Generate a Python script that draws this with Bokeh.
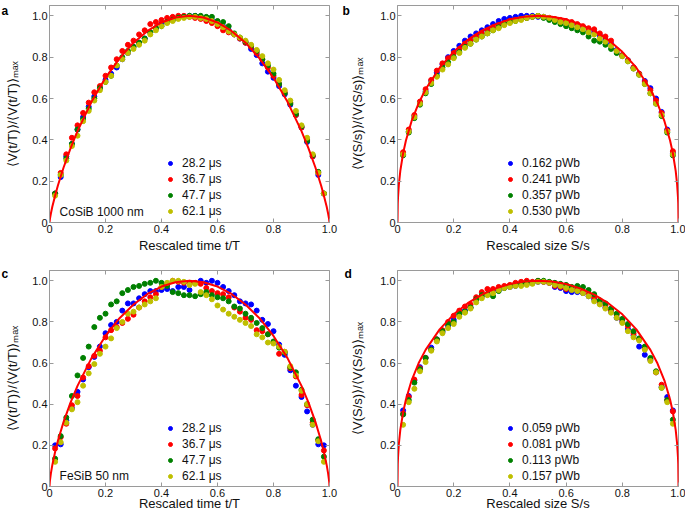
from bokeh.plotting import figure
from bokeh.models import Range1d, FixedTicker, Legend, LegendItem, Label, LinearAxis
from bokeh.layouts import column, row
from bokeh.embed import file_html
from bokeh.resources import INLINE

# ---------------- data ----------------
P_X = [0.02, 0.04, 0.06, 0.08, 0.10, 0.12, 0.14, 0.16, 0.18, 0.20,
       0.22, 0.24, 0.26, 0.28, 0.30, 0.32, 0.34, 0.36, 0.38, 0.40,
       0.42, 0.44, 0.46, 0.48, 0.50, 0.52, 0.54, 0.56, 0.58, 0.60,
       0.62, 0.64, 0.66, 0.68, 0.70, 0.72, 0.74, 0.76, 0.78, 0.80,
       0.82, 0.84, 0.86, 0.88, 0.90, 0.92, 0.94, 0.96, 0.98]

A_BLUE = [0.14, 0.22, 0.32, 0.38, 0.45, 0.51, 0.56, 0.61, 0.65, 0.69,
          0.72, 0.75, 0.79, 0.82, 0.85, 0.87, 0.89, 0.92, 0.94, 0.96,
          0.97, 0.98, 0.99, 0.995, 1.0, 1.0, 0.995, 0.99, 0.98, 0.965,
          0.95, 0.93, 0.91, 0.89, 0.87, 0.84, 0.81, 0.77, 0.73, 0.70,
          0.66, 0.62, 0.57, 0.52, 0.46, 0.39, 0.32, 0.23, 0.14]
A_RED = [0.14, 0.24, 0.33, 0.41, 0.47, 0.53, 0.58, 0.63, 0.66, 0.71,
         0.75, 0.79, 0.83, 0.86, 0.88, 0.91, 0.93, 0.96, 0.97, 0.98,
         0.99, 0.995, 1.0, 1.0, 0.995, 0.99, 0.985, 0.975, 0.965, 0.95,
         0.93, 0.92, 0.91, 0.89, 0.87, 0.85, 0.82, 0.79, 0.75, 0.71,
         0.67, 0.63, 0.58, 0.52, 0.46, 0.40, 0.32, 0.24, 0.14]
A_GREEN = [0.14, 0.23, 0.31, 0.38, 0.45, 0.50, 0.55, 0.60, 0.65, 0.68,
           0.71, 0.76, 0.80, 0.83, 0.85, 0.87, 0.89, 0.92, 0.94, 0.95,
           0.97, 0.98, 0.99, 0.995, 1.0, 1.0, 1.0, 0.995, 0.995, 0.975,
           0.97, 0.95, 0.915, 0.895, 0.875, 0.855, 0.83, 0.79, 0.76, 0.72,
           0.67, 0.625, 0.575, 0.525, 0.465, 0.395, 0.325, 0.245, 0.14]
A_YELLOW = [0.13, 0.23, 0.30, 0.37, 0.42, 0.49, 0.54, 0.59, 0.64, 0.68,
            0.71, 0.76, 0.79, 0.82, 0.84, 0.86, 0.88, 0.91, 0.93, 0.95,
            0.965, 0.975, 0.985, 0.99, 0.995, 0.995, 0.99, 0.985, 0.975, 0.96,
            0.945, 0.925, 0.91, 0.895, 0.88, 0.86, 0.835, 0.805, 0.77, 0.74,
            0.69, 0.64, 0.59, 0.54, 0.47, 0.41, 0.33, 0.24, 0.14]

B_BLUE = [0.33, 0.44, 0.515, 0.58, 0.635, 0.685, 0.725, 0.765, 0.80, 0.83,
          0.855, 0.88, 0.90, 0.915, 0.93, 0.945, 0.96, 0.975, 0.985, 0.99,
          0.995, 1.0, 1.0, 1.0, 0.995, 0.995, 0.99, 0.98, 0.975, 0.965,
          0.96, 0.955, 0.945, 0.93, 0.92, 0.905, 0.885, 0.865, 0.835, 0.81,
          0.785, 0.75, 0.72, 0.685, 0.65, 0.60, 0.535, 0.45, 0.335]
B_RED = [0.34, 0.45, 0.52, 0.585, 0.645, 0.69, 0.735, 0.77, 0.795, 0.82,
         0.84, 0.865, 0.88, 0.90, 0.915, 0.93, 0.945, 0.955, 0.965, 0.975,
         0.98, 0.985, 0.99, 0.995, 1.0, 0.995, 0.99, 0.985, 0.98, 0.975,
         0.97, 0.96, 0.95, 0.94, 0.935, 0.915, 0.90, 0.88, 0.83, 0.81,
         0.785, 0.75, 0.72, 0.68, 0.64, 0.59, 0.53, 0.445, 0.345]
B_GREEN = [0.325, 0.435, 0.505, 0.57, 0.625, 0.67, 0.71, 0.75, 0.775, 0.80,
           0.825, 0.85, 0.865, 0.885, 0.90, 0.915, 0.93, 0.945, 0.96, 0.97,
           0.975, 0.985, 0.99, 0.995, 1.0, 0.99, 0.98, 0.97, 0.96, 0.95,
           0.94, 0.93, 0.92, 0.90, 0.88, 0.875, 0.86, 0.84, 0.82, 0.805,
           0.78, 0.745, 0.715, 0.67, 0.625, 0.575, 0.515, 0.435, 0.325]
B_YELLOW = [0.33, 0.44, 0.51, 0.575, 0.63, 0.675, 0.705, 0.74, 0.765, 0.795,
            0.82, 0.845, 0.865, 0.885, 0.90, 0.915, 0.93, 0.94, 0.955, 0.965,
            0.975, 0.98, 0.99, 0.995, 1.0, 0.995, 0.99, 0.98, 0.97, 0.965,
            0.955, 0.945, 0.935, 0.92, 0.91, 0.89, 0.875, 0.855, 0.83, 0.805,
            0.78, 0.745, 0.715, 0.67, 0.625, 0.575, 0.52, 0.44, 0.33]

C_BLUE = [0.20, 0.205, 0.32, 0.38, 0.46, 0.52, 0.58, 0.63, 0.68, 0.745,
          0.785, 0.80, 0.855, 0.89, 0.89, 0.915, 0.935, 0.95, 0.95, 0.955,
          0.96, 0.95, 0.97, 0.97, 0.955, 0.99, 1.0, 0.99, 1.0, 0.99,
          0.97, 0.95, 0.93, 0.90, 0.89, 0.885, 0.855, 0.81, 0.79, 0.755,
          0.69, 0.64, 0.565, 0.49, 0.435, 0.365, 0.30, 0.205, 0.20]
C_RED = [0.185, 0.24, 0.305, 0.395, 0.44, 0.53, 0.585, 0.635, 0.66, 0.725,
         0.76, 0.775, 0.795, 0.815, 0.835, 0.87, 0.90, 0.92, 0.935, 0.97,
         0.985, 1.0, 0.995, 0.99, 0.99, 0.99, 0.985, 0.965, 0.95, 0.94,
         0.935, 0.92, 0.87, 0.85, 0.82, 0.81, 0.76, 0.755, 0.74, 0.70,
         0.645, 0.655, 0.575, 0.535, 0.445, 0.395, 0.31, 0.225, 0.175]
C_GREEN = [0.135, 0.245, 0.335, 0.44, 0.54, 0.625, 0.68, 0.775, 0.82, 0.84,
           0.885, 0.90, 0.94, 0.955, 0.97, 0.975, 0.985, 0.99, 1.0, 0.99,
           0.975, 0.945, 0.94, 0.93, 0.93, 0.925, 0.935, 0.945, 0.93, 0.92,
           0.915, 0.90, 0.875, 0.865, 0.84, 0.82, 0.795, 0.77, 0.74, 0.705,
           0.675, 0.65, 0.58, 0.555, 0.47, 0.40, 0.325, 0.23, 0.145]
C_YELLOW = [0.12, 0.215, 0.31, 0.375, 0.41, 0.49, 0.55, 0.595, 0.645, 0.68,
            0.72, 0.77, 0.80, 0.84, 0.85, 0.87, 0.885, 0.90, 0.915, 0.97,
            0.99, 1.0, 1.0, 0.995, 0.98, 0.985, 0.945, 0.93, 0.91, 0.88,
            0.86, 0.84, 0.825, 0.81, 0.795, 0.78, 0.74, 0.725, 0.70, 0.695,
            0.68, 0.655, 0.585, 0.54, 0.465, 0.40, 0.30, 0.22, 0.12]

D_BLUE = [0.37, 0.44, 0.515, 0.58, 0.625, 0.675, 0.715, 0.75, 0.78, 0.81,
          0.835, 0.855, 0.87, 0.905, 0.925, 0.935, 0.955, 0.955, 0.965, 0.97,
          0.975, 0.98, 0.985, 0.99, 0.995, 0.995, 0.99, 0.97, 0.965, 0.95,
          0.945, 0.945, 0.94, 0.925, 0.91, 0.89, 0.87, 0.85, 0.82, 0.80,
          0.765, 0.735, 0.68, 0.64, 0.615, 0.555, 0.485, 0.435, 0.37]
D_RED = [0.355, 0.435, 0.52, 0.575, 0.625, 0.665, 0.715, 0.76, 0.80, 0.83,
         0.855, 0.875, 0.885, 0.92, 0.945, 0.96, 0.96, 0.97, 0.975, 0.98,
         0.99, 0.995, 1.0, 0.995, 1.0, 0.995, 0.99, 0.975, 0.97, 0.96,
         0.96, 0.955, 0.95, 0.935, 0.92, 0.90, 0.88, 0.86, 0.835, 0.81,
         0.78, 0.745, 0.715, 0.67, 0.62, 0.555, 0.495, 0.42, 0.365]
D_GREEN = [0.35, 0.42, 0.505, 0.57, 0.625, 0.665, 0.715, 0.755, 0.79, 0.80,
           0.84, 0.85, 0.87, 0.91, 0.93, 0.935, 0.925, 0.95, 0.965, 0.975,
           0.98, 0.985, 0.99, 0.99, 1.0, 1.0, 0.995, 0.99, 0.985, 0.98,
           0.97, 0.975, 0.97, 0.955, 0.935, 0.905, 0.89, 0.865, 0.84, 0.815,
           0.79, 0.755, 0.72, 0.68, 0.625, 0.56, 0.48, 0.42, 0.325]
D_YELLOW = [0.30, 0.41, 0.475, 0.56, 0.605, 0.66, 0.705, 0.745, 0.77, 0.79,
            0.825, 0.845, 0.865, 0.895, 0.915, 0.93, 0.94, 0.955, 0.965, 0.97,
            0.975, 0.975, 0.98, 0.985, 0.995, 0.995, 0.99, 0.98, 0.975, 0.965,
            0.955, 0.95, 0.94, 0.925, 0.90, 0.885, 0.865, 0.845, 0.82, 0.795,
            0.755, 0.725, 0.71, 0.665, 0.61, 0.555, 0.48, 0.41, 0.305]

FIT_X = [0, 0.001, 0.002, 0.005, 0.01, 0.02, 0.03, 0.05, 0.075, 0.1, 0.15, 0.2,
         0.25, 0.3, 0.35, 0.4, 0.45, 0.5, 0.55, 0.6, 0.65, 0.7, 0.75, 0.8,
         0.85, 0.9, 0.925, 0.95, 0.97, 0.98, 0.99, 0.995, 0.998, 0.999, 1.0]
FIT_A = [0, 0.012, 0.021, 0.0435, 0.076, 0.130, 0.179, 0.265, 0.359, 0.442, 0.584, 0.700,
         0.794, 0.870, 0.927, 0.968, 0.992, 1.0, 0.992, 0.968, 0.927, 0.870, 0.794, 0.700,
         0.584, 0.442, 0.359, 0.265, 0.179, 0.130, 0.076, 0.0435, 0.021, 0.012, 0]
FIT_B = [0, 0.093, 0.125, 0.186, 0.250, 0.335, 0.397, 0.490, 0.576, 0.645, 0.749, 0.826,
         0.884, 0.928, 0.960, 0.983, 0.996, 1.0, 0.996, 0.983, 0.960, 0.928, 0.884, 0.826,
         0.749, 0.645, 0.576, 0.490, 0.397, 0.335, 0.250, 0.186, 0.125, 0.093, 0]
FIT_C = [0, 0.021, 0.034, 0.064, 0.104, 0.168, 0.222, 0.313, 0.408, 0.489, 0.624, 0.732,
         0.818, 0.885, 0.936, 0.972, 0.993, 1.0, 0.993, 0.972, 0.936, 0.885, 0.818, 0.732,
         0.624, 0.489, 0.408, 0.313, 0.222, 0.168, 0.104, 0.064, 0.034, 0.021, 0]
FIT_D = [0, 0.110, 0.145, 0.209, 0.275, 0.361, 0.423, 0.515, 0.599, 0.664, 0.764, 0.837,
         0.891, 0.933, 0.963, 0.984, 0.996, 1.0, 0.996, 0.984, 0.963, 0.933, 0.891, 0.837,
         0.764, 0.664, 0.599, 0.515, 0.423, 0.361, 0.275, 0.209, 0.145, 0.110, 0]

TIME_LABELS = ["28.2 μs", "36.7 μs", "47.7 μs", "62.1 μs"]
B_LABELS = ["0.162 pWb", "0.241 pWb", "0.357 pWb", "0.530 pWb"]
D_LABELS = ["0.059 pWb", "0.081 pWb", "0.113 pWb", "0.157 pWb"]
TICKS = [0, 0.2, 0.4, 0.6, 0.8, 1.0]
TICK_LABELS = ["0", "0.2", "0.4", "0.6", "0.8", "1.0"]

COLORS = ["#0000ff", "#ff0000", "#008000", "#bfbf00"]
GREY = "#9a9a9a"
FONT = "Liberation Sans"


def make_panel(letter, letter_xy, letter_side, xlabel, ylabel, series, labels, fit_y, note,
               width, height, bl, br, bt, bb, ylab_standoff, xlab_standoff, leg_loc):
    p = figure(width=width, height=height, output_backend="svg", toolbar_location=None,
               x_range=Range1d(0, 1), y_range=Range1d(0, 1.05),
               min_border_left=bl, min_border_right=br, min_border_top=bt, min_border_bottom=bb,
               background_fill_color="white", border_fill_color="white")
    p.grid.visible = False
    p.outline_line_color = GREY
    p.outline_line_width = 1
    overrides = {t: s for t, s in zip(TICKS, TICK_LABELS)}
    for ax in (p.xaxis[0], p.yaxis[0]):
        ax.ticker = FixedTicker(ticks=TICKS)
        ax.major_label_overrides = overrides
        ax.major_tick_in = 4
        ax.major_tick_out = 0
        ax.minor_tick_line_color = None
        ax.axis_line_color = GREY
        ax.major_tick_line_color = GREY
        ax.major_label_text_font = FONT
        ax.major_label_text_font_size = "11px"
        ax.major_label_text_color = "#111111"
        ax.major_label_standoff = 2
        ax.axis_label_text_font = FONT
        ax.axis_label_text_font_size = "13px"
        ax.axis_label_text_font_style = "normal"
        ax.axis_label_text_color = "#111111"
    p.xaxis[0].axis_label = xlabel
    p.xaxis[0].axis_label_standoff = xlab_standoff
    p.yaxis[0].axis_label = ylabel
    p.yaxis[0].axis_label_standoff = ylab_standoff
    for side in ("above", "right"):
        ax = LinearAxis(ticker=FixedTicker(ticks=TICKS),
                        major_label_overrides={t: "" for t in TICKS},
                        major_label_text_font_size="1px", major_label_standoff=0,
                        major_tick_in=4, major_tick_out=0, minor_tick_line_color=None,
                        axis_line_color=None, major_tick_line_color=GREY)
        p.add_layout(ax, side)

    renderers = []
    for ys, c in zip(series, COLORS):
        r = p.scatter(P_X, ys, size=5, color=c)
        renderers.append(r)
    p.line(FIT_X, fit_y, line_color="#ff0000", line_width=2)

    legend = Legend(items=[LegendItem(label=l, renderers=[r]) for l, r in zip(labels, renderers)],
                    location=leg_loc, border_line_color=None, background_fill_alpha=0,
                    glyph_width=10, glyph_height=16, label_height=16, spacing=0,
                    padding=0, margin=0, label_standoff=7,
                    label_text_font=FONT, label_text_font_size="12px",
                    label_text_color="#111111")
    p.add_layout(legend)

    if note:
        p.add_layout(Label(x=0.036, y=0.053, text=note, text_font=FONT, text_font_size="12px",
                           text_baseline="middle", text_color="#111111"))

    lab = Label(x=letter_xy[0], y=letter_xy[1], x_units="canvas", y_units="canvas",
                text=letter, text_font=FONT, text_font_size="12px", text_font_style="bold",
                text_baseline="alphabetic", text_color="#000000")
    p.add_layout(lab, letter_side)
    return p


YT = "⟨V(t/T)⟩/⟨V(t/T)⟩ₘₐₓ"
YS = "⟨V(S/s)⟩/⟨V(S/s)⟩ₘₐₓ"

pa = make_panel("a", (1, 10), "right", "Rescaled time t/T", YT, [A_BLUE, A_RED, A_GREEN, A_YELLOW],
                TIME_LABELS, FIT_A, "CoSiB 1000 nm", 340, 258, 49, 11, 5, 36, 9, 2, (116, 3))
pb = make_panel("b", (2, 10), "left", "Rescaled size S/s", YS, [B_BLUE, B_RED, B_GREEN, B_YELLOW],
                B_LABELS, FIT_B, None, 345, 258, 57, 7, 5, 36, 12, 2, (108, 3))
pc = make_panel("c", (1, 15), "right", "Rescaled time t/T", YT, [C_BLUE, C_RED, C_GREEN, C_YELLOW],
                TIME_LABELS, FIT_C, "FeSiB 50 nm", 340, 258, 49, 11, 12, 30, 9, -4, (116, 2))
pd = make_panel("d", (4, 15), "left", "Rescaled size S/s", YS, [D_BLUE, D_RED, D_GREEN, D_YELLOW],
                D_LABELS, FIT_D, None, 345, 258, 57, 7, 12, 30, 12, -4, (108, 2))

layout = column(row(pa, pb), row(pc, pd))
open("out.html", "w").write(file_html(layout, INLINE))
